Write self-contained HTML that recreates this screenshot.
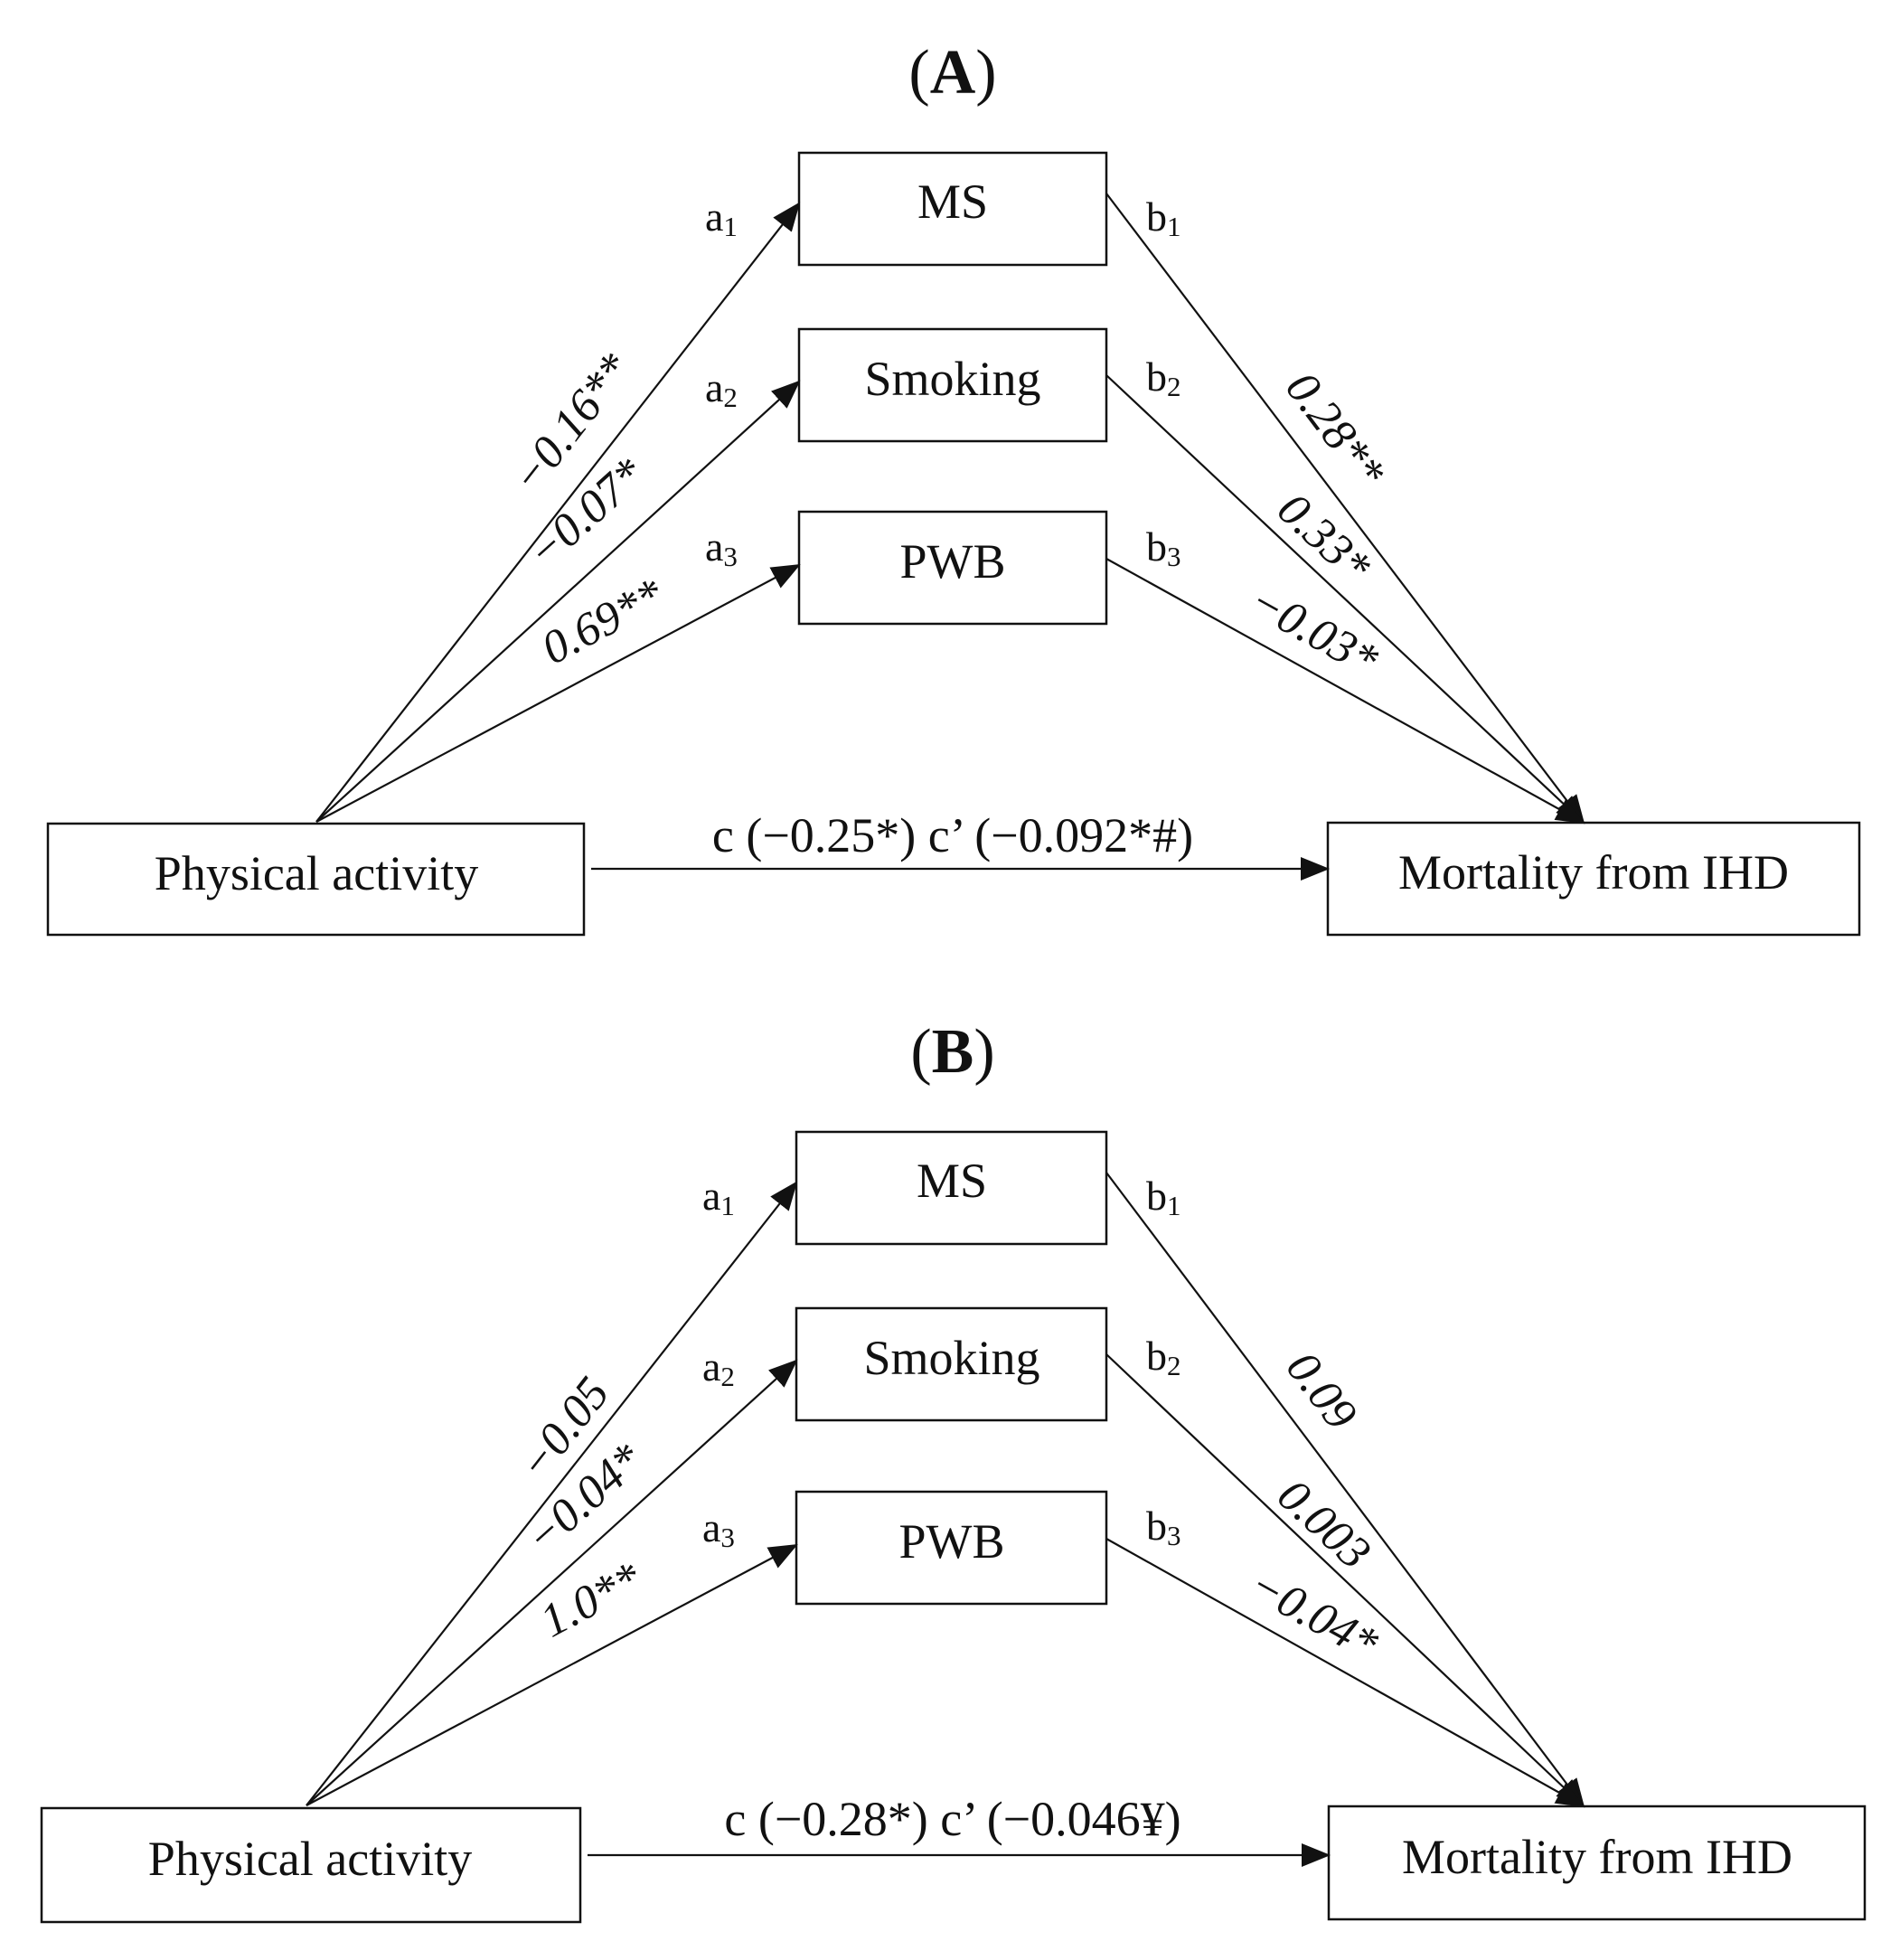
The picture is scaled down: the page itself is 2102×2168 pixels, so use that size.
<!DOCTYPE html>
<html><head><meta charset="utf-8"><style>
html,body{margin:0;padding:0;background:#fff;}
svg{display:block;}
text{font-family:"Liberation Serif","DejaVu Serif",serif;fill:#111;}
.box{fill:#fff;stroke:#111;stroke-width:2.5;}
.ln{stroke:#111;stroke-width:2.2;fill:none;}
.bt{font-size:54px;text-anchor:middle;}
.pl{font-size:52px;font-style:italic;text-anchor:middle;}
.ab{font-size:46px;}
.sub{font-size:31px;}
</style></head><body>
<svg width="2102" height="2168" viewBox="0 0 2102 2168" xmlns="http://www.w3.org/2000/svg">
<defs>
<marker id="ar" markerUnits="userSpaceOnUse" markerWidth="32" markerHeight="26" refX="30" refY="13" orient="auto">
<path d="M0,0 L32,13 L0,26 Z" fill="#111"/>
</marker>
</defs>

<!-- Panel A -->
<text x="1054" y="103" font-size="70" text-anchor="middle">(<tspan font-weight="bold">A</tspan>)</text>
<g id="A">
<rect class="box" x="884" y="169" width="340" height="124"/>
<rect class="box" x="884" y="364" width="340" height="124"/>
<rect class="box" x="884" y="566" width="340" height="124"/>
<rect class="box" x="53" y="911" width="593" height="123"/>
<rect class="box" x="1469" y="910" width="588" height="124"/>
<text class="bt" x="1054" y="241">MS</text>
<text class="bt" x="1054" y="437">Smoking</text>
<text class="bt" x="1054" y="639">PWB</text>
<text class="bt" x="350" y="984">Physical activity</text>
<text class="bt" x="1763" y="983">Mortality from IHD</text>
<line class="ln" x1="350" y1="909" x2="884" y2="225" marker-end="url(#ar)"/>
<line class="ln" x1="350" y1="909" x2="884" y2="422" marker-end="url(#ar)"/>
<line class="ln" x1="350" y1="909" x2="884" y2="625" marker-end="url(#ar)"/>
<line class="ln" x1="1224" y1="214" x2="1752" y2="910" marker-end="url(#ar)"/>
<line class="ln" x1="1224" y1="415" x2="1752" y2="910" marker-end="url(#ar)"/>
<line class="ln" x1="1224" y1="618" x2="1752" y2="910" marker-end="url(#ar)"/>
<line class="ln" x1="654" y1="961" x2="1469" y2="961" marker-end="url(#ar)"/>
<text x="1054" y="942" font-size="54" text-anchor="middle">c (−0.25*) c’ (−0.092*#)</text>
<text class="ab" x="780" y="255">a<tspan class="sub" dy="6">1</tspan></text>
<text class="ab" x="780" y="444">a<tspan class="sub" dy="6">2</tspan></text>
<text class="ab" x="780" y="620">a<tspan class="sub" dy="6">3</tspan></text>
<text class="ab" x="1268" y="255">b<tspan class="sub" dy="6">1</tspan></text>
<text class="ab" x="1268" y="432">b<tspan class="sub" dy="6">2</tspan></text>
<text class="ab" x="1268" y="620">b<tspan class="sub" dy="6">3</tspan></text>
<text class="pl" transform="translate(634,470) rotate(-52)" y="14">−0.16**</text>
<text class="pl" transform="translate(650,570) rotate(-42)" y="14">−0.07*</text>
<text class="pl" transform="translate(668,690) rotate(-28)" y="14">0.69**</text>
<text class="pl" transform="translate(1475,477) rotate(53)" y="14">0.28**</text>
<text class="pl" transform="translate(1463,597) rotate(43)" y="14">0.33*</text>
<text class="pl" transform="translate(1452,700) rotate(29)" y="14">−0.03*</text>
</g>

<!-- Panel B -->
<text x="1054" y="1186" font-size="70" text-anchor="middle">(<tspan font-weight="bold">B</tspan>)</text>
<g>
<rect class="box" x="881" y="1252" width="343" height="124"/>
<rect class="box" x="881" y="1447" width="343" height="124"/>
<rect class="box" x="881" y="1650" width="343" height="124"/>
<rect class="box" x="46" y="2000" width="596" height="126"/>
<rect class="box" x="1470" y="1998" width="593" height="125"/>
<text class="bt" x="1053" y="1324">MS</text>
<text class="bt" x="1053" y="1520">Smoking</text>
<text class="bt" x="1053" y="1723">PWB</text>
<text class="bt" x="343" y="2074">Physical activity</text>
<text class="bt" x="1767" y="2072">Mortality from IHD</text>
<line class="ln" x1="339" y1="1997" x2="881" y2="1308" marker-end="url(#ar)"/>
<line class="ln" x1="339" y1="1997" x2="881" y2="1505" marker-end="url(#ar)"/>
<line class="ln" x1="339" y1="1997" x2="881" y2="1709" marker-end="url(#ar)"/>
<line class="ln" x1="1224" y1="1297" x2="1752" y2="1998" marker-end="url(#ar)"/>
<line class="ln" x1="1224" y1="1498" x2="1752" y2="1998" marker-end="url(#ar)"/>
<line class="ln" x1="1224" y1="1702" x2="1752" y2="1998" marker-end="url(#ar)"/>
<line class="ln" x1="650" y1="2052" x2="1470" y2="2052" marker-end="url(#ar)"/>
<text x="1054" y="2030" font-size="54" text-anchor="middle">c (−0.28*) c’ (−0.046¥)</text>
<text class="ab" x="777" y="1338">a<tspan class="sub" dy="6">1</tspan></text>
<text class="ab" x="777" y="1527">a<tspan class="sub" dy="6">2</tspan></text>
<text class="ab" x="777" y="1705">a<tspan class="sub" dy="6">3</tspan></text>
<text class="ab" x="1268" y="1338">b<tspan class="sub" dy="6">1</tspan></text>
<text class="ab" x="1268" y="1515">b<tspan class="sub" dy="6">2</tspan></text>
<text class="ab" x="1268" y="1703">b<tspan class="sub" dy="6">3</tspan></text>
<text class="pl" transform="translate(626,1582) rotate(-52)" y="14">−0.05</text>
<text class="pl" transform="translate(648,1660) rotate(-42)" y="14">−0.04*</text>
<text class="pl" transform="translate(655,1772) rotate(-28)" y="14">1.0**</text>
<text class="pl" transform="translate(1460,1540) rotate(53)" y="14">0.09</text>
<text class="pl" transform="translate(1463,1688) rotate(43)" y="14">0.003</text>
<text class="pl" transform="translate(1452,1788) rotate(29)" y="14">−0.04*</text>
</g>
</svg>
</body></html>
